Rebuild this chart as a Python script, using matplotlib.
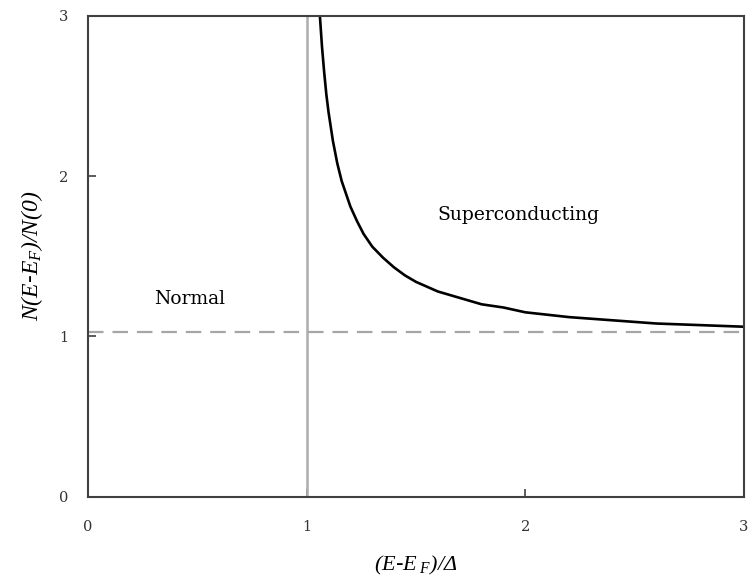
import matplotlib
matplotlib.use("Agg")
import matplotlib.pyplot as plt

# density of states above the gap (superconducting branch)
energy = [1.06, 1.07, 1.08, 1.09, 1.10, 1.12, 1.14, 1.16, 1.18, 1.20, 1.23,
          1.26, 1.30, 1.35, 1.40, 1.45, 1.50, 1.55, 1.60, 1.70, 1.80, 1.90,
          2.00, 2.20, 2.40, 2.60, 2.80, 3.00]
dos = [3.01, 2.81, 2.65, 2.51, 2.40, 2.22, 2.08, 1.97, 1.89, 1.81, 1.72,
       1.64, 1.56, 1.49, 1.43, 1.38, 1.34, 1.31, 1.28, 1.24, 1.20, 1.18,
       1.15, 1.12, 1.10, 1.08, 1.07, 1.06]

gap_edge = 1.0       # vertical line at E - E_F = Delta
normal_level = 1.03  # dashed normal-state line

x_ticks = [0, 1, 2, 3]
y_ticks = [0, 1, 2, 3]

plt.rcParams["font.family"] = "DejaVu Serif"
plt.rcParams["mathtext.fontset"] = "custom"
plt.rcParams["mathtext.rm"] = "Liberation Serif:italic"
plt.rcParams["mathtext.it"] = "Liberation Serif:italic"

fig = plt.figure(figsize=(7.49, 5.88), dpi=100)
ax = fig.add_axes([0.1175, 0.1556, 0.8758, 0.8172])

ax.axvline(gap_edge, color="#b0b0b0", lw=1.9)
ax.axhline(normal_level, color="#a6a6a6", lw=1.6, dashes=(7, 4))
ax.plot(energy, dos, color="black", lw=1.9, solid_capstyle="butt")

ax.set_xlim(0, 3)
ax.set_ylim(0, 3)
ax.set_xticks(x_ticks)
ax.set_yticks(y_ticks)
ax.tick_params(direction="in", length=5.5, width=1.2, color="#404040",
               labelsize=10.5, labelcolor="#333333")
ax.tick_params(axis="x", pad=17)
ax.tick_params(axis="y", pad=14)

for sp in ax.spines.values():
    sp.set_color("#404040")
    sp.set_linewidth(1.5)

ax.text(0.466, 1.23, "Normal", ha="center", va="center", fontsize=13.5)
ax.text(1.97, 1.757, "Superconducting", ha="center", va="center", fontsize=13.5)

ax.set_xlabel(r"$\mathit{(E}$‐$\mathit{E_{\ F})/}\mathit{\Delta}$", fontsize=16, labelpad=14)
ax.set_ylabel(r"$\mathit{N(E}$‐$\mathit{E_F)/N(0)}$", fontsize=17, labelpad=10)

fig.savefig("out.png", dpi=100)
